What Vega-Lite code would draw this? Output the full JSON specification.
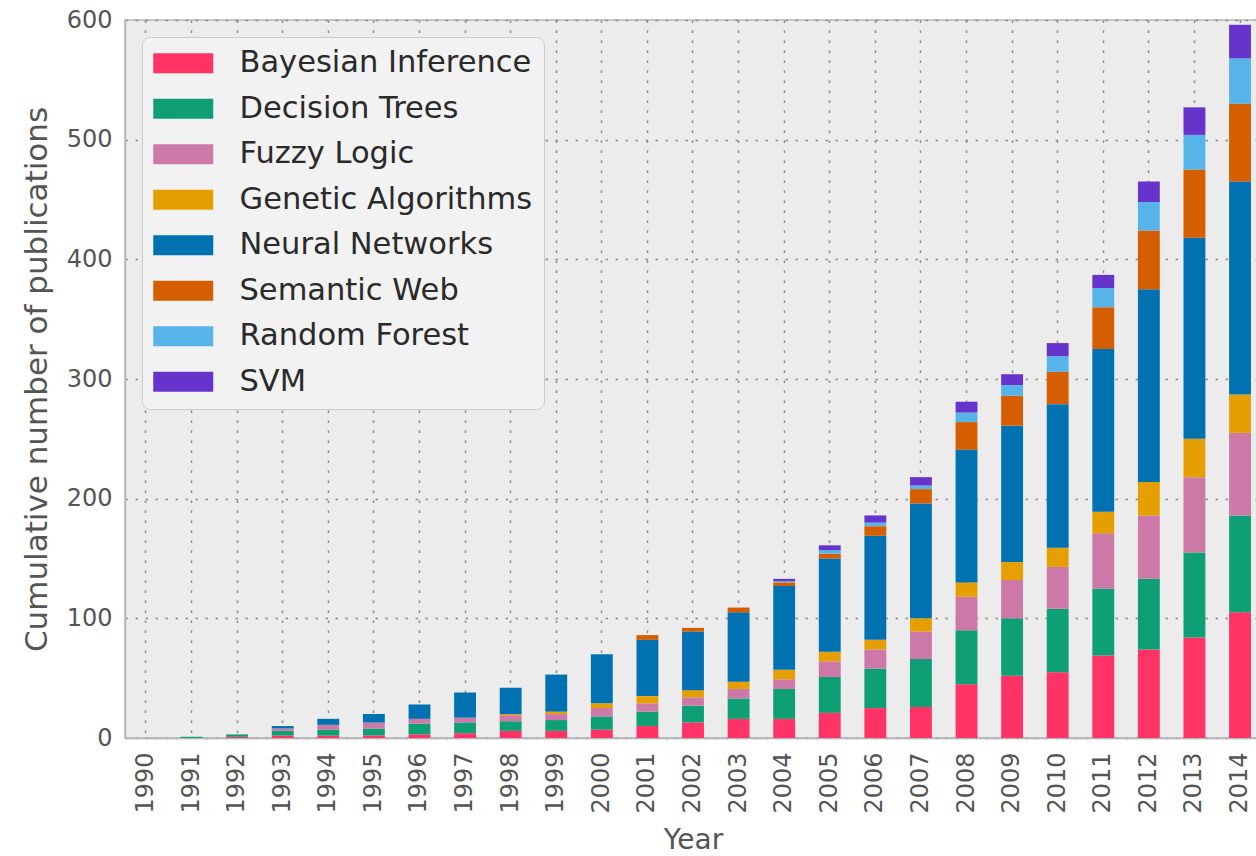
{
  "$schema": "https://vega.github.io/schema/vega-lite/v6.json",
  "autosize": {"type": "none"},
  "padding": {"left": 125, "top": 20, "right": 0, "bottom": 118},
  "width": 1136,
  "height": 718,
  "background": "white",
  "datasets": {
    "series": [
      {"method": "Bayesian Inference", "rank": 0},
      {"method": "Decision Trees", "rank": 1},
      {"method": "Fuzzy Logic", "rank": 2},
      {"method": "Genetic Algorithms", "rank": 3},
      {"method": "Neural Networks", "rank": 4},
      {"method": "Semantic Web", "rank": 5},
      {"method": "Random Forest", "rank": 6},
      {"method": "SVM", "rank": 7}
    ]
  },
  "data": {
    "values": [
      {"Year": 1990, "Bayesian Inference": 0, "Decision Trees": 0, "Fuzzy Logic": 0, "Genetic Algorithms": 0, "Neural Networks": 0, "Semantic Web": 0, "Random Forest": 0, "SVM": 0},
      {"Year": 1991, "Bayesian Inference": 0, "Decision Trees": 1, "Fuzzy Logic": 0, "Genetic Algorithms": 0, "Neural Networks": 0, "Semantic Web": 0, "Random Forest": 0, "SVM": 0},
      {"Year": 1992, "Bayesian Inference": 1, "Decision Trees": 2, "Fuzzy Logic": 0, "Genetic Algorithms": 0, "Neural Networks": 0, "Semantic Web": 0, "Random Forest": 0, "SVM": 0},
      {"Year": 1993, "Bayesian Inference": 2, "Decision Trees": 4, "Fuzzy Logic": 2, "Genetic Algorithms": 0, "Neural Networks": 2, "Semantic Web": 0, "Random Forest": 0, "SVM": 0},
      {"Year": 1994, "Bayesian Inference": 2, "Decision Trees": 5, "Fuzzy Logic": 4, "Genetic Algorithms": 0, "Neural Networks": 5, "Semantic Web": 0, "Random Forest": 0, "SVM": 0},
      {"Year": 1995, "Bayesian Inference": 2, "Decision Trees": 6, "Fuzzy Logic": 5, "Genetic Algorithms": 0, "Neural Networks": 7, "Semantic Web": 0, "Random Forest": 0, "SVM": 0},
      {"Year": 1996, "Bayesian Inference": 3, "Decision Trees": 9, "Fuzzy Logic": 4, "Genetic Algorithms": 0, "Neural Networks": 12, "Semantic Web": 0, "Random Forest": 0, "SVM": 0},
      {"Year": 1997, "Bayesian Inference": 4, "Decision Trees": 9, "Fuzzy Logic": 4, "Genetic Algorithms": 0, "Neural Networks": 21, "Semantic Web": 0, "Random Forest": 0, "SVM": 0},
      {"Year": 1998, "Bayesian Inference": 6, "Decision Trees": 8, "Fuzzy Logic": 5, "Genetic Algorithms": 1, "Neural Networks": 22, "Semantic Web": 0, "Random Forest": 0, "SVM": 0},
      {"Year": 1999, "Bayesian Inference": 6, "Decision Trees": 9, "Fuzzy Logic": 5, "Genetic Algorithms": 2, "Neural Networks": 31, "Semantic Web": 0, "Random Forest": 0, "SVM": 0},
      {"Year": 2000, "Bayesian Inference": 7, "Decision Trees": 11, "Fuzzy Logic": 7, "Genetic Algorithms": 4, "Neural Networks": 41, "Semantic Web": 0, "Random Forest": 0, "SVM": 0},
      {"Year": 2001, "Bayesian Inference": 10, "Decision Trees": 12, "Fuzzy Logic": 7, "Genetic Algorithms": 6, "Neural Networks": 47, "Semantic Web": 4, "Random Forest": 0, "SVM": 0},
      {"Year": 2002, "Bayesian Inference": 13, "Decision Trees": 14, "Fuzzy Logic": 7, "Genetic Algorithms": 6, "Neural Networks": 49, "Semantic Web": 3, "Random Forest": 0, "SVM": 0},
      {"Year": 2003, "Bayesian Inference": 16, "Decision Trees": 17, "Fuzzy Logic": 8, "Genetic Algorithms": 6, "Neural Networks": 58, "Semantic Web": 4, "Random Forest": 0, "SVM": 0},
      {"Year": 2004, "Bayesian Inference": 16, "Decision Trees": 25, "Fuzzy Logic": 8, "Genetic Algorithms": 8, "Neural Networks": 70, "Semantic Web": 3, "Random Forest": 1, "SVM": 2},
      {"Year": 2005, "Bayesian Inference": 21, "Decision Trees": 30, "Fuzzy Logic": 13, "Genetic Algorithms": 8, "Neural Networks": 78, "Semantic Web": 4, "Random Forest": 3, "SVM": 4},
      {"Year": 2006, "Bayesian Inference": 25, "Decision Trees": 33, "Fuzzy Logic": 16, "Genetic Algorithms": 8, "Neural Networks": 87, "Semantic Web": 8, "Random Forest": 3, "SVM": 6},
      {"Year": 2007, "Bayesian Inference": 26, "Decision Trees": 40, "Fuzzy Logic": 23, "Genetic Algorithms": 11, "Neural Networks": 96, "Semantic Web": 12, "Random Forest": 3, "SVM": 7},
      {"Year": 2008, "Bayesian Inference": 45, "Decision Trees": 45, "Fuzzy Logic": 28, "Genetic Algorithms": 12, "Neural Networks": 111, "Semantic Web": 23, "Random Forest": 8, "SVM": 9},
      {"Year": 2009, "Bayesian Inference": 52, "Decision Trees": 48, "Fuzzy Logic": 32, "Genetic Algorithms": 15, "Neural Networks": 114, "Semantic Web": 25, "Random Forest": 9, "SVM": 9},
      {"Year": 2010, "Bayesian Inference": 55, "Decision Trees": 53, "Fuzzy Logic": 35, "Genetic Algorithms": 16, "Neural Networks": 120, "Semantic Web": 27, "Random Forest": 13, "SVM": 11},
      {"Year": 2011, "Bayesian Inference": 69, "Decision Trees": 56, "Fuzzy Logic": 46, "Genetic Algorithms": 18, "Neural Networks": 136, "Semantic Web": 35, "Random Forest": 16, "SVM": 11},
      {"Year": 2012, "Bayesian Inference": 74, "Decision Trees": 59, "Fuzzy Logic": 53, "Genetic Algorithms": 28, "Neural Networks": 161, "Semantic Web": 49, "Random Forest": 24, "SVM": 17},
      {"Year": 2013, "Bayesian Inference": 84, "Decision Trees": 71, "Fuzzy Logic": 63, "Genetic Algorithms": 32, "Neural Networks": 168, "Semantic Web": 57, "Random Forest": 29, "SVM": 23},
      {"Year": 2014, "Bayesian Inference": 105, "Decision Trees": 81, "Fuzzy Logic": 69, "Genetic Algorithms": 32, "Neural Networks": 178, "Semantic Web": 65, "Random Forest": 38, "SVM": 28}
    ]
  },
  "transform": [
    {"fold": ["Bayesian Inference", "Decision Trees", "Fuzzy Logic", "Genetic Algorithms", "Neural Networks", "Semantic Web", "Random Forest", "SVM"], "as": ["method", "count"]},
    {"lookup": "method", "from": {"data": {"name": "series"}, "key": "method", "fields": ["rank"]}}
  ],
  "mark": {"type": "bar"},
  "encoding": {
    "x": {
      "field": "Year",
      "type": "ordinal",
      "scale": {"paddingInner": 0.52, "paddingOuter": 0.22},
      "axis": {
        "title": "Year",
        "labelAngle": -90,
        "labelFontSize": 24,
        "labelColor": "#555555",
        "labelPadding": 14,
        "ticks": false,
        "grid": true,
        "bandPosition": 0.5,
        "titleFontSize": 28,
        "titleFontWeight": "normal",
        "titleColor": "#555555",
        "titlePadding": 13
      }
    },
    "y": {
      "field": "count",
      "type": "quantitative",
      "stack": "zero",
      "scale": {"domain": [0, 600], "nice": false},
      "axis": {
        "title": "Cumulative number of publications",
        "values": [0, 100, 200, 300, 400, 500, 600],
        "labelFontSize": 24,
        "labelColor": "#555555",
        "labelPadding": 13,
        "ticks": false,
        "grid": true,
        "titleFontSize": 31,
        "titleFontWeight": "normal",
        "titleColor": "#555555",
        "titlePadding": 13
      }
    },
    "color": {
      "field": "method",
      "type": "nominal",
      "scale": {
        "domain": ["Bayesian Inference", "Decision Trees", "Fuzzy Logic", "Genetic Algorithms", "Neural Networks", "Semantic Web", "Random Forest", "SVM"],
        "range": ["#FF3366", "#0EA074", "#CC79A7", "#E69F00", "#0072B2", "#D55E00", "#56B4E9", "#6634CC"]
      },
      "legend": {
        "title": null,
        "orient": "none",
        "legendX": 17,
        "legendY": 17,
        "symbolType": "M-2,-0.667H2V0.667H-2Z",
        "symbolSize": 900,
        "symbolStrokeWidth": 0,
        "symbolOpacity": 1,
        "symbolOffset": 15,
        "labelFontSize": 30.5,
        "labelLimit": 0,
        "labelColor": "#2a2a2a",
        "labelOffset": 41,
        "rowPadding": 14.5,
        "padding": 11,
        "fillColor": "#f2f2f2",
        "strokeColor": "#cccccc",
        "cornerRadius": 8
      }
    },
    "order": {"field": "rank", "type": "quantitative", "sort": "ascending"}
  },
  "config": {
    "font": "DejaVu Sans",
    "view": {"fill": "#ececec", "stroke": "#b5b5b5", "strokeWidth": 1.5},
    "axis": {
      "domainColor": "#b5b5b5",
      "domainWidth": 1.5,
      "gridColor": "#8a8a8a",
      "gridDash": [2.5, 7.5],
      "gridWidth": 1.5,
      "gridOpacity": 1
    }
  }
}
